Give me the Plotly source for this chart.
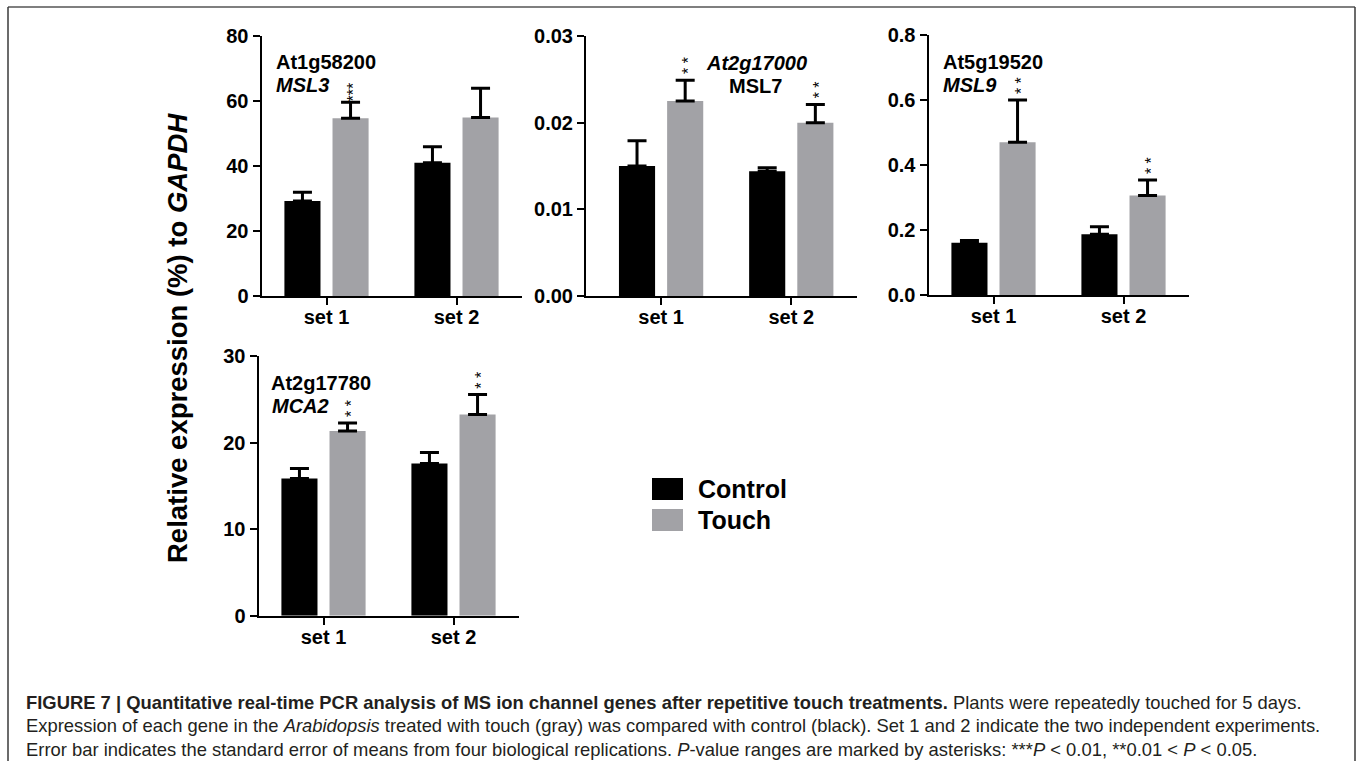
import plotly.graph_objects as go

W, H = 1358, 761

# ---------------- data ----------------
categories = ["set 1", "set 2"]

genes_id = ["At1g58200", "At2g17000", "At5g19520", "At2g17780"]
genes_name = ["MSL3", "MSL7", "MSL9", "MCA2"]

control_msl3 = [29.2, 41.0]
control_msl3_sem = [2.7, 4.9]
touch_msl3 = [54.7, 54.9]
touch_msl3_sem = [4.9, 9.0]
stars_msl3 = ["***", ""]

control_msl7 = [0.0150, 0.0144]
control_msl7_sem = [0.0029, 0.0004]
touch_msl7 = [0.0225, 0.0200]
touch_msl7_sem = [0.0024, 0.0021]
stars_msl7 = ["**", "**"]

control_msl9 = [0.161, 0.187]
control_msl9_sem = [0.007, 0.023]
touch_msl9 = [0.470, 0.306]
touch_msl9_sem = [0.130, 0.048]
stars_msl9 = ["**", "**"]

control_mca2 = [15.85, 17.58]
control_mca2_sem = [1.15, 1.27]
touch_mca2 = [21.35, 23.23]
touch_mca2_sem = [0.92, 2.31]
stars_mca2 = ["**", "**"]

y_ticks_msl3 = [0, 20, 40, 60, 80]
y_ticks_msl7 = [0, 0.01, 0.02, 0.03]
y_ticks_msl9 = [0, 0.2, 0.4, 0.6, 0.8]
y_ticks_mca2 = [0, 10, 20, 30]

# ---------------- styling ----------------
FONT = "Liberation Sans, Arial, Helvetica, sans-serif"
BLACK = "#000000"
GRAY = "#a2a2a6"


def px(x):
    return x / W


def py(y):
    return 1 - y / H


panels = [
    dict(ctrl=control_msl3, ctrl_e=control_msl3_sem, tch=touch_msl3, tch_e=touch_msl3_sem,
         stars=stars_msl3, ticks=y_ticks_msl3, fmt="d", yr=[0, 80],
         xdom=(261.5, 521.5), ydom=(36, 296), xr=[-0.5, 1.5]),
    dict(ctrl=control_msl7, ctrl_e=control_msl7_sem, tch=touch_msl7, tch_e=touch_msl7_sem,
         stars=stars_msl7, ticks=y_ticks_msl7, fmt=".2f", yr=[0, 0.03],
         xdom=(586, 857), ydom=(36, 296), xr=[-0.577, 1.505]),
    dict(ctrl=control_msl9, ctrl_e=control_msl9_sem, tch=touch_msl9, tch_e=touch_msl9_sem,
         stars=stars_msl9, ticks=y_ticks_msl9, fmt=".1f", yr=[0, 0.8],
         xdom=(928.5, 1188.5), ydom=(35, 295), xr=[-0.5, 1.5]),
    dict(ctrl=control_mca2, ctrl_e=control_mca2_sem, tch=touch_mca2, tch_e=touch_mca2_sem,
         stars=stars_mca2, ticks=y_ticks_mca2, fmt="d", yr=[0, 30],
         xdom=(258.5, 518.5), ydom=(356, 615.7), xr=[-0.5, 1.5]),
]

fig = go.Figure()
layout_axes = {}
annotations = []

for i, p in enumerate(panels):
    n = i + 1
    xa = "x" if n == 1 else f"x{n}"
    ya = "y" if n == 1 else f"y{n}"
    fig.add_trace(go.Bar(
        x=categories, y=p["ctrl"], xaxis=xa, yaxis=ya, name="Control",
        marker=dict(color=BLACK, line=dict(width=0)), showlegend=False,
        offsetgroup="c",
        error_y=dict(type="data", symmetric=False, array=p["ctrl_e"],
                     arrayminus=[0] * len(p["ctrl_e"]), color=BLACK, thickness=3, width=9.5),
    ))
    fig.add_trace(go.Bar(
        x=categories, y=p["tch"], xaxis=xa, yaxis=ya, name="Touch",
        marker=dict(color=GRAY, line=dict(width=0)), showlegend=False,
        offsetgroup="t",
        error_y=dict(type="data", symmetric=False, array=p["tch_e"],
                     arrayminus=[0] * len(p["tch_e"]), color=BLACK, thickness=3, width=9.5),
    ))
    xkey = "xaxis" if n == 1 else f"xaxis{n}"
    ykey = "yaxis" if n == 1 else f"yaxis{n}"
    layout_axes[xkey] = dict(
        domain=[px(p["xdom"][0]), px(p["xdom"][1])], anchor=ya, type="category",
        range=p["xr"], showline=True, linecolor=BLACK, linewidth=2,
        ticks="outside", ticklen=7, tickwidth=2, tickcolor=BLACK,
        ticklabelstandoff=-5,
        tickfont=dict(family=FONT, size=20, color=BLACK, weight="bold"),
        showgrid=False, zeroline=False, fixedrange=True, automargin=False,
    )
    layout_axes[ykey] = dict(
        domain=[py(p["ydom"][1]), py(p["ydom"][0])], anchor=xa, range=p["yr"],
        tickvals=p["ticks"], tickformat=p["fmt"], showline=True, linecolor=BLACK,
        linewidth=2, ticks="outside", ticklen=7, tickwidth=2, tickcolor=BLACK,
        tickfont=dict(family=FONT, size=20, color=BLACK, weight="bold"),
        showgrid=False, zeroline=False, fixedrange=True, automargin=False,
    )
    # significance asterisks above the touch bars: one rotated text per bar,
    # so the asterisks stack vertically
    for cat, val, err, s in zip(categories, p["tch"], p["tch_e"], p["stars"]):
        k = len(s)
        if k == 0:
            continue
        txt = "***" if k == 3 else "* *"
        gap = 3.0 if k == 3 else 8.0
        annotations.append(dict(
            xref=xa, yref=ya, x=cat, y=val + err, xshift=24 + 3.9,
            yshift=gap - 4.2, yanchor="bottom", xanchor="center",
            text=txt, textangle=-90, showarrow=False,
            font=dict(family=FONT, size=16, color=BLACK),
        ))

fig.update_layout(**layout_axes)

# gene labels
def lab(text, x, ycen, anchor="left", italic=False):
    annotations.append(dict(
        xref="paper", yref="paper", x=px(x), y=py(ycen), xanchor=anchor,
        yanchor="middle", text=text, showarrow=False,
        font=dict(family=FONT, size=20, color=BLACK, weight="bold",
                  style="italic" if italic else "normal"),
    ))

lab(genes_id[0], 274, 62.5)
lab(genes_name[0], 274, 85, italic=True)
lab(genes_id[1], 756, 63.5, anchor="center", italic=True)
lab(genes_name[1], 755, 86, anchor="center")
lab(genes_id[2], 941, 61.5)
lab(genes_name[2], 941, 85, italic=True)
lab(genes_id[3], 269, 382.5)
lab(genes_name[3], 270, 406, italic=True)

# y-axis title
annotations.append(dict(
    xref="paper", yref="paper", x=px(177), y=py(338), xanchor="center", yanchor="middle",
    textangle=-90, text="Relative expression (%) to <i>GAPDH</i>", showarrow=False,
    font=dict(family=FONT, size=27.5, color=BLACK, weight="bold"),
))

# legend (manual)
legend_items = [("Control", BLACK), ("Touch", GRAY)]
shapes = []
for k, (name, col) in enumerate(legend_items):
    top = 478 + k * 31
    shapes.append(dict(type="rect", xref="paper", yref="paper",
                       x0=px(652), x1=px(683), y0=py(top + 22), y1=py(top),
                       fillcolor=col, line=dict(width=0)))
    annotations.append(dict(
        xref="paper", yref="paper", x=px(696), y=py(top + 11), xanchor="left",
        yanchor="middle", text=name, showarrow=False,
        font=dict(family=FONT, size=25, color=BLACK, weight="bold"),
    ))

# frame
shapes.append(dict(type="line", xref="paper", yref="paper", x0=px(8), x1=px(1355),
                   y0=py(7), y1=py(7), line=dict(color="#7f7f7f", width=2)))
shapes.append(dict(type="line", xref="paper", yref="paper", x0=px(8), x1=px(8),
                   y0=py(7), y1=0, line=dict(color="#3a3a3a", width=1.5)))
shapes.append(dict(type="line", xref="paper", yref="paper", x0=px(1355), x1=px(1355),
                   y0=py(7), y1=0, line=dict(color="#3a3a3a", width=1.5)))

# caption
CAP = "#231f20"
caption_lines = [
    "<b>FIGURE 7 | Quantitative real-time PCR analysis of MS ion channel genes after repetitive touch treatments.</b> Plants were repeatedly touched for 5 days.",
    "Expression of each gene in the <i>Arabidopsis</i> treated with touch (gray) was compared with control (black). Set 1 and 2 indicate the two independent experiments.",
    "Error bar indicates the standard error of means from four biological replications. <i>P</i>-value ranges are marked by asterisks: ***<i>P</i> &lt; 0.01, **0.01 &lt; <i>P</i> &lt; 0.05.",
]
for k, line in enumerate(caption_lines):
    annotations.append(dict(
        xref="paper", yref="paper", x=px(25), y=py(702 + k * 23.8), xanchor="left",
        yanchor="middle", text=line, showarrow=False, align="left", borderpad=0,
        font=dict(family=FONT, size=18.4, color=CAP),
    ))

fig.update_layout(
    width=W, height=H, margin=dict(l=0, r=0, t=0, b=0, autoexpand=False),
    paper_bgcolor="white", plot_bgcolor="white",
    barmode="group", bargap=0.26, bargroupgap=0.25,
    annotations=annotations, shapes=shapes, showlegend=False,
    font=dict(family=FONT, color=BLACK),
)

fig.write_html(
    "out.html",
    config={"displayModeBar": False},
    post_script="document.body.style.margin='0';document.body.style.overflow='hidden';",
)
